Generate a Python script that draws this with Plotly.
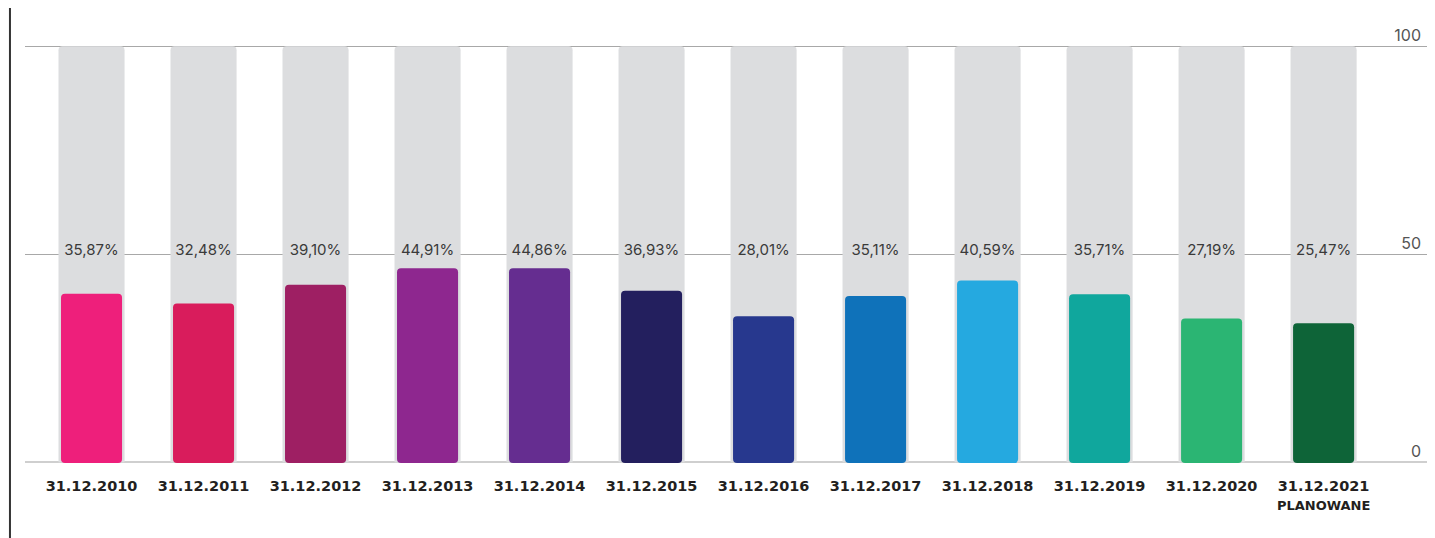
import plotly.graph_objects as go

categories = ["31.12.2010", "31.12.2011", "31.12.2012", "31.12.2013", "31.12.2014",
              "31.12.2015", "31.12.2016", "31.12.2017", "31.12.2018", "31.12.2019",
              "31.12.2020", "31.12.2021"]
tick_labels = ["31.12.2010", "31.12.2011", "31.12.2012", "31.12.2013", "31.12.2014",
               "31.12.2015", "31.12.2016", "31.12.2017", "31.12.2018", "31.12.2019",
               "31.12.2020", "31.12.2021<br><span style='font-size:13px'>PLANOWANE</span>"]
values = [35.87, 32.48, 39.10, 44.91, 44.86, 36.93, 28.01, 35.11, 40.59, 35.71, 27.19, 25.47]
full_scale = [100] * 12
bar_colors = ["#ee1f7b", "#d91c5c", "#9e1f63", "#8e278f", "#652d90", "#231f5e",
              "#27388e", "#0f72ba", "#25a9e0", "#10a79d", "#2bb573", "#0e6438"]
right_ticks = [0, 50, 100]

Y2_MIN, Y2_MAX = -23.7, 123.5
LABEL_Y = 50.8

value_text = [f"{v:.2f}".replace(".", ",") + "%" for v in values]

fig = go.Figure()
fig.add_trace(go.Bar(x=categories, y=full_scale, width=0.59,
                     marker=dict(color="#dcdddf", line_width=0, cornerradius=4),
                     hoverinfo="skip", showlegend=False))
fig.add_trace(go.Bar(x=categories, y=[v - Y2_MIN for v in values], base=Y2_MIN, width=0.545,
                     marker=dict(color=bar_colors, line_width=0, cornerradius=4),
                     yaxis="y2", hoverinfo="skip", showlegend=False))
fig.add_trace(go.Scatter(x=categories, y=[LABEL_Y] * 12, mode="text", text=value_text,
                         textposition="middle center",
                         textfont=dict(family="Inter, Roboto, sans-serif", size=15, color="#3a3a3a"),
                         hoverinfo="skip", showlegend=False))

fig.update_layout(
    width=1427, height=530,
    margin=dict(l=17, r=5, t=37, b=75),
    paper_bgcolor="white", plot_bgcolor="white",
    barmode="overlay",
    xaxis=dict(type="category", range=[-0.594, 11.95], tickvals=categories, ticktext=tick_labels,
               showgrid=False, zeroline=False, showline=False,
               ticks="outside", ticklen=10, tickcolor="rgba(0,0,0,0)",
               tickfont=dict(family="DejaVu Sans, sans-serif", size=14.5, color="#231f20", weight="bold")),
    yaxis=dict(range=[-0.2, 100.3], side="right", tickvals=right_ticks,
               ticklabelposition="inside top", ticklabeloverflow="allow", ticklabelstandoff=6,
               showgrid=True, gridcolor="#a8a8a8", gridwidth=1,
               zeroline=True, zerolinecolor="#cfcfcf", zerolinewidth=2, showline=False,
               tickfont=dict(family="Inter, Roboto, sans-serif", size=16, color="#555555")),
    yaxis2=dict(range=[Y2_MIN, Y2_MAX], overlaying="y", visible=False, showgrid=False),
    shapes=[dict(type="line", xref="paper", yref="paper", x0=-0.0107, x1=-0.0107,
                 y0=-0.2, y1=1.2, line=dict(color="#333333", width=2))],
)

fig.write_html("out.html")
